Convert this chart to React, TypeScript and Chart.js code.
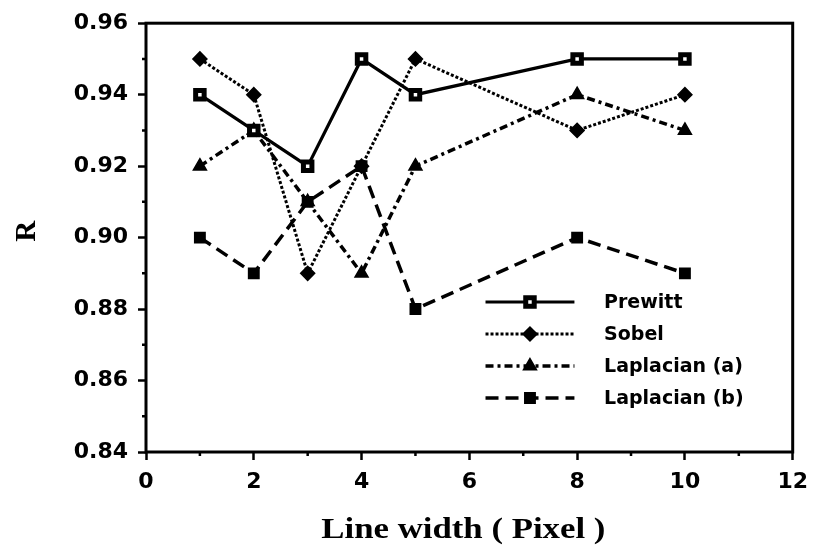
import React, { useEffect, useRef } from 'react';
import { Chart, registerables } from 'chart.js';

Chart.register(...registerables);

// Line width in pixels (x) against the correlation R for each edge detector
const lineWidths = [1, 2, 3, 4, 5, 8, 10];
const prewitt = [0.94, 0.93, 0.92, 0.95, 0.94, 0.95, 0.95];
const sobel = [0.95, 0.94, 0.89, 0.92, 0.95, 0.93, 0.94];
const laplacianA = [0.92, 0.93, 0.91, 0.89, 0.92, 0.94, 0.93];
const laplacianB = [0.9, 0.89, 0.91, 0.92, 0.88, 0.9, 0.89];

const seriesNames = ['Prewitt', 'Sobel', 'Laplacian (a)', 'Laplacian (b)'];
const xTitle = 'Line width ( Pixel )';
const yTitle = 'R';

const xMin = 0;
const xMax = 12;
const yMin = 0.84;
const yMax = 0.96;
const xMinorTicks = [1, 3, 5, 7, 9, 11];
const yMinorTicks = [0.85, 0.87, 0.89, 0.91, 0.93, 0.95];

const INK = '#000000';
const TICK_FONT = { family: '"DejaVu Sans", sans-serif', size: 22, weight: 'bold' as const };
const LEGEND_FONT = 'bold 19px "DejaVu Sans", sans-serif';
const TITLE_FONT = 'bold 29px "Liberation Serif", "Times New Roman", serif';
const R_FONT = 'bold 29px "Liberation Serif", "Times New Roman", serif';

type MarkerStyle = {
  shape: 'rect' | 'rectRot' | 'triangle';
  radius: number;
  fill: string;
  borderWidth: number;
};

const markers: MarkerStyle[] = [
  { shape: 'rect', radius: 6, fill: '#ffffff', borderWidth: 5 },
  { shape: 'rectRot', radius: 7, fill: INK, borderWidth: 1.5 },
  { shape: 'triangle', radius: 7.5, fill: INK, borderWidth: 1.5 },
  { shape: 'rect', radius: 7, fill: INK, borderWidth: 2 },
];

const dashes: number[][] = [[], [3, 2], [8, 4, 3, 4], [13, 7]];
const widths = [3.2, 3, 3.5, 3.5];

function drawMarker(ctx: CanvasRenderingContext2D, m: MarkerStyle, x: number, y: number) {
  ctx.save();
  ctx.setLineDash([]);
  ctx.beginPath();
  const r = m.radius;
  if (m.shape === 'rect') {
    const s = Math.SQRT1_2 * r;
    ctx.rect(x - s, y - s, 2 * s, 2 * s);
  } else if (m.shape === 'rectRot') {
    ctx.moveTo(x - r, y);
    ctx.lineTo(x, y - r);
    ctx.lineTo(x + r, y);
    ctx.lineTo(x, y + r);
    ctx.closePath();
  } else {
    let rad = 0;
    ctx.moveTo(x + Math.sin(rad) * r, y - Math.cos(rad) * r);
    rad += (2 * Math.PI) / 3;
    ctx.lineTo(x + Math.sin(rad) * r, y - Math.cos(rad) * r);
    rad += (2 * Math.PI) / 3;
    ctx.lineTo(x + Math.sin(rad) * r, y - Math.cos(rad) * r);
    ctx.closePath();
  }
  ctx.fillStyle = m.fill;
  ctx.fill();
  ctx.lineWidth = m.borderWidth;
  ctx.strokeStyle = INK;
  ctx.stroke();
  ctx.restore();
}

// Draws text centred at x, widened horizontally to the requested width
function drawWideText(ctx: CanvasRenderingContext2D, text: string, cx: number, y: number, targetWidth: number) {
  const w = ctx.measureText(text).width;
  const sx = targetWidth / w;
  ctx.save();
  ctx.translate(cx, y);
  ctx.scale(sx, 1);
  ctx.textAlign = 'center';
  ctx.fillText(text, 0, 0);
  ctx.restore();
}

// Frame, minor ticks, axis titles and the in-plot legend
const decorations = {
  id: 'decorations',
  afterDatasetsDraw(chart: any) {
    const { ctx, chartArea, scales } = chart;
    const { left, right, top, bottom } = chartArea;
    ctx.save();
    ctx.strokeStyle = INK;
    ctx.lineWidth = 3;
    ctx.setLineDash([]);
    ctx.strokeRect(left, top, right - left, bottom - top);

    ctx.lineWidth = 2.5;
    ctx.beginPath();
    xMinorTicks.forEach((v) => {
      const px = scales.x.getPixelForValue(v);
      ctx.moveTo(px, bottom);
      ctx.lineTo(px, bottom + 4);
    });
    yMinorTicks.forEach((v) => {
      const py = scales.y.getPixelForValue(v);
      ctx.moveTo(left, py);
      ctx.lineTo(left - 4, py);
    });
    ctx.stroke();

    // axis titles
    ctx.fillStyle = INK;
    ctx.font = TITLE_FONT;
    ctx.textBaseline = 'alphabetic';
    drawWideText(ctx, xTitle, (left + right) / 2 - 6, 538, 284);
    ctx.save();
    ctx.font = R_FONT;
    ctx.translate(35, top + (bottom - top) * 0.485);
    ctx.rotate(-Math.PI / 2);
    ctx.textAlign = 'center';
    ctx.fillText(yTitle, 0, 0);
    ctx.restore();

    // legend
    const lineX0 = scales.x.getPixelForValue(6.3);
    const lineX1 = scales.x.getPixelForValue(7.95);
    const textX = scales.x.getPixelForValue(8.5);
    const rowY = [302, 334, 366, 398];
    chart.data.datasets.forEach((ds: any, i: number) => {
      const y = rowY[i];
      ctx.save();
      ctx.strokeStyle = INK;
      ctx.lineWidth = ds.borderWidth;
      ctx.setLineDash(ds.borderDash || []);
      ctx.beginPath();
      ctx.moveTo(lineX0, y);
      ctx.lineTo(lineX1, y);
      ctx.stroke();
      ctx.restore();
      drawMarker(ctx, markers[i], (lineX0 + lineX1) / 2, y);
      ctx.font = LEGEND_FONT;
      ctx.textAlign = 'left';
      ctx.textBaseline = 'middle';
      ctx.fillStyle = INK;
      ctx.fillText(ds.label, textX, y + 1);
    });
    ctx.restore();
  },
};

export default function App() {
  const canvasRef = useRef<HTMLCanvasElement | null>(null);

  useEffect(() => {
    const canvas = canvasRef.current;
    if (!canvas) return;
    const series = [prewitt, sobel, laplacianA, laplacianB];
    const chart = new Chart(canvas, {
      type: 'line',
      data: {
        datasets: series.map((vals, i) => ({
          label: seriesNames[i],
          data: lineWidths.map((x, j) => ({ x, y: vals[j] })),
          borderColor: INK,
          borderWidth: widths[i],
          borderDash: dashes[i],
          fill: false,
          tension: 0,
          pointStyle: markers[i].shape,
          pointRadius: markers[i].radius,
          pointBackgroundColor: markers[i].fill,
          pointBorderColor: INK,
          pointBorderWidth: markers[i].borderWidth,
          order: i === 3 ? 0 : i + 1,
        })),
      },
      options: {
        responsive: false,
        animation: false,
        events: [],
        layout: { padding: { left: 0, top: 17, right: 20, bottom: 0 } },
        plugins: {
          legend: { display: false },
          tooltip: { enabled: false },
        },
        scales: {
          x: {
            type: 'linear',
            min: xMin,
            max: xMax,
            afterFit: (scale: any) => {
              scale.height = 98;
            },
            border: { display: false },
            grid: {
              drawOnChartArea: false,
              drawTicks: true,
              tickLength: 8,
              tickColor: INK,
              tickWidth: 2.5,
              color: INK,
            },
            ticks: {
              stepSize: 2,
              color: INK,
              font: TICK_FONT,
              padding: 9,
              maxRotation: 0,
            },
          },
          y: {
            type: 'linear',
            min: yMin,
            max: yMax,
            afterFit: (scale: any) => {
              scale.width = 146;
            },
            border: { display: false },
            grid: {
              drawOnChartArea: false,
              drawTicks: true,
              tickLength: 8,
              tickColor: INK,
              tickWidth: 2.5,
              color: INK,
            },
            ticks: {
              stepSize: 0.02,
              color: INK,
              font: TICK_FONT,
              padding: 10,
              callback: (v: any) => Number(v).toFixed(2),
            },
          },
        },
      },
      plugins: [decorations],
    });
    return () => chart.destroy();
  }, []);

  return (
    <div style={{ position: 'absolute', left: 0, top: 0, width: 817, height: 550, background: '#ffffff' }}>
      <canvas ref={canvasRef} width={817} height={550} style={{ display: 'block' }} />
    </div>
  );
}
